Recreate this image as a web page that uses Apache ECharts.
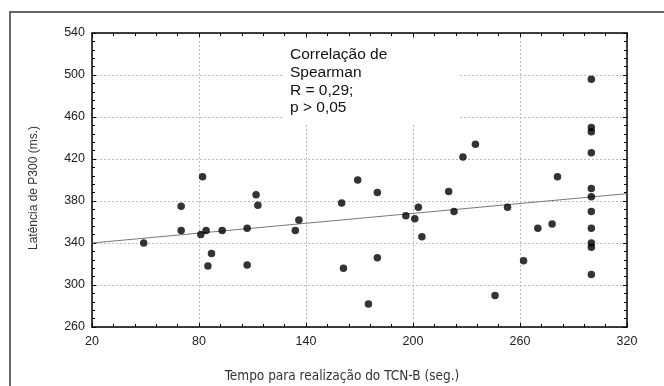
<!DOCTYPE html>
<html>
<head>
<meta charset="utf-8">
<script src="https://cdn.jsdelivr.net/npm/echarts@6/dist/echarts.min.js"></script>
<style>
  html, body { margin: 0; padding: 0; background: #fff; }
  #chart { width: 664px; height: 386px; }
</style>
</head>
<body>
<div id="chart"></div>
<script>
// tempo (seg.) e latência (ms.) de cada paciente
const tempo = [49, 70, 70, 82, 81, 84, 85, 87, 93, 107, 107, 112, 113, 134, 136,
  160, 161, 169, 175, 180, 180, 196, 201, 203, 205, 220, 223, 228, 235, 246,
  253, 262, 270, 278, 281, 300, 300, 300, 300, 300, 300, 300, 300, 300, 300, 300]
const latencia = [340, 375, 352, 403, 348, 352, 318, 330, 352, 354, 319, 386, 376, 352, 362,
  378, 316, 400, 282, 388, 326, 366, 363, 374, 346, 389, 370, 422, 434, 290,
  374, 323, 354, 358, 403, 496, 450, 446, 426, 392, 384, 370, 354, 340, 336, 310]

// reta de regressão (extremos)
const retaX = [20, 320]
const retaY = [340, 387]

const xTicks = [20, 80, 140, 200, 260, 320]
const yTicks = [260, 300, 340, 380, 420, 460, 500, 540]

const anotacao = ['Correlação de', 'Spearman', 'R = 0,29;', 'p > 0,05']

const chart = echarts.init(document.getElementById('chart'))

const tickFont = { fontFamily: 'Liberation Sans, Arial', fontSize: 12.5, color: '#222' }

const baseAxis = {
  axisLine: { show: true, onZero: false, lineStyle: { color: '#000', width: 1.5 } },
  axisTick: { show: true, inside: true, length: 4, lineStyle: { color: '#000' } },
  minorTick: { show: true, splitNumber: 5, length: 3, lineStyle: { color: '#000' } },
  splitLine: { show: false }
}

const option = {
  animation: false,
  grid: { left: 92, right: 37, top: 33, bottom: 59 },
  xAxis: [
    {
      ...baseAxis,
      type: 'value',
      min: xTicks[0],
      max: xTicks[xTicks.length - 1],
      interval: 60,
      axisLabel: { ...tickFont, margin: 8 },
      splitLine: { show: true, lineStyle: { color: '#bbb', type: [2, 2], width: 1 } }
    },
    {
      ...baseAxis,
      type: 'value',
      position: 'top',
      min: xTicks[0],
      max: xTicks[xTicks.length - 1],
      interval: 60,
      axisLabel: { show: false }
    }
  ],
  yAxis: [
    {
      ...baseAxis,
      type: 'value',
      min: yTicks[0],
      max: yTicks[yTicks.length - 1],
      interval: 40,
      axisLabel: { ...tickFont, margin: 7 },
      splitLine: { show: true, lineStyle: { color: '#bbb', type: [2, 2], width: 1 } }
    },
    {
      ...baseAxis,
      type: 'value',
      position: 'right',
      min: yTicks[0],
      max: yTicks[yTicks.length - 1],
      interval: 40,
      axisLabel: { show: false }
    }
  ],
  series: [
    {
      type: 'line',
      data: retaX.map((x, i) => [x, retaY[i]]),
      symbol: 'none',
      lineStyle: { color: '#777', width: 1 },
      z: 2
    },
    {
      type: 'scatter',
      data: tempo.map((t, i) => [t, latencia[i]]),
      symbol: 'circle',
      symbolSize: 7.5,
      itemStyle: { color: '#000' },
      z: 3
    }
  ],
  graphic: [
    {
      type: 'rect',
      shape: { x: 10, y: 12, width: 700, height: 420 },
      style: { fill: 'none', stroke: '#666', lineWidth: 2 },
      silent: true
    },
    {
      type: 'rect',
      shape: { x: 283, y: 39, width: 177, height: 84 },
      style: { fill: '#fff' },
      z: 1,
      silent: true
    },
    {
      type: 'text',
      left: 290,
      top: 46,
      z: 2,
      style: {
        text: anotacao.join('\n'),
        fontFamily: 'Liberation Sans, Arial',
        fontSize: 15.5,
        lineHeight: 17.7,
        fill: '#111'
      }
    },
    {
      type: 'text',
      x: 342,
      y: 376,
      style: {
        text: 'Tempo para realização do TCN-B (seg.)',
        fontFamily: 'Liberation Sans Narrow, DejaVu Sans Condensed, sans-serif',
        fontSize: 13.5,
        fill: '#333',
        align: 'center',
        verticalAlign: 'middle'
      }
    },
    {
      type: 'text',
      x: 34,
      y: 188,
      rotation: Math.PI / 2,
      style: {
        text: 'Latência de P300 (ms.)',
        fontFamily: 'Liberation Sans, Arial',
        fontSize: 12,
        fill: '#333',
        align: 'center',
        verticalAlign: 'middle'
      }
    }
  ]
}

chart.setOption(option)
</script>
</body>
</html>
